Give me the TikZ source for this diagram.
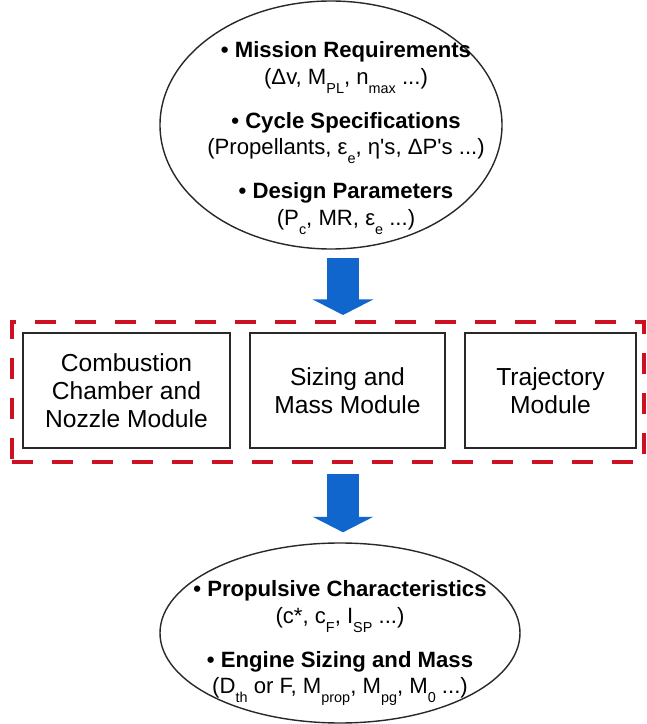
\documentclass[tikz,border=0pt]{standalone}
\usepackage{fontspec}
\setmainfont{Liberation Sans}
\usetikzlibrary{arrows.meta, positioning, calc, shapes.geometric}
\usepackage{xcolor}
\definecolor{flowblue}{RGB}{16,102,204}
\definecolor{framered}{RGB}{204,18,34}
\definecolor{edge}{RGB}{40,40,40}

% lowered index, as in M_PL
\newcommand{\ix}[1]{\raisebox{-0.4em}{\fontsize{8.2}{8.2}\selectfont #1}}

\begin{document}
\begin{tikzpicture}[
    font=\fontsize{12.6}{15.3}\selectfont,
    blob/.style={ellipse, draw=edge, line width=0.8pt, inner sep=0pt},
    module/.style={draw=edge, line width=0.7pt, minimum height=2.3cm,
                   align=center, font=\fontsize{14}{16}\selectfont},
    bigarrow/.style={flowblue, line width=0.64cm,
                     -{Triangle[length=0.31cm, width=1.2cm]}}]
    \useasboundingbox (0,0) rectangle (12.92,14.48);

    % inputs
    \node[blob, minimum width=6.84cm, minimum height=4.96cm] (inputs) at (6.62,11.98) {};
    \node[align=center] (inputtext) at (6.92,11.72)
      {\bfseries • Mission Requirements\\
       (Δv, M\ix{PL}, n\ix{max} ...)\\[0.34cm]
       \bfseries • Cycle Specifications\\
       (Propellants, ε\ix{e}, η\textquotesingle s, ΔP\textquotesingle s ...)\\[0.34cm]
       \bfseries • Design Parameters\\
       (P\ix{c}, MR, ε\ix{e} ...)};

    % modules
    \node[draw=framered, line width=2.3pt, dash pattern=on 0.42cm off 0.38cm,
          minimum width=12.64cm, minimum height=2.8cm] (modules) at (6.56,6.64) {};
    \node[module, minimum width=4.14cm] (chamber) at (2.53,6.67)
      {Combustion\\Chamber and\\Nozzle Module};
    \node[module, minimum width=3.90cm] (sizing) at (6.95,6.67)
      {Sizing and\\Mass Module};
    \node[module, minimum width=3.42cm] (traj) at (11.01,6.67)
      {Trajectory\\Module};

    % outputs
    \node[blob, minimum width=7.2cm, minimum height=3.6cm] (outputs) at (6.80,1.82) {};
    \node[align=center] (outputtext) at (6.80,1.62)
      {\bfseries • Propulsive Characteristics\\
       (c*, c\ix{F}, I\ix{SP} ...)\\[0.34cm]
       \bfseries • Engine Sizing and Mass\\
       (D\ix{th} or F, M\ix{prop}, M\ix{pg}, M\ix{0} ...)};

    % flow arrows
    \draw[bigarrow] ($(inputs.south)+(0.24,-0.16)$) -- ($(modules.north)+(0.30,0.10)$);
    \draw[bigarrow] ($(modules.south)+(0.30,-0.20)$) -- ($(outputs.north)+(0.06,0.20)$);
\end{tikzpicture}
\end{document}
